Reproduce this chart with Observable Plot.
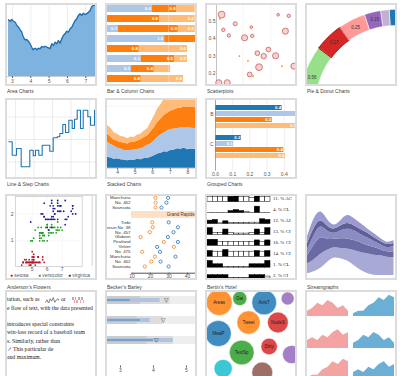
<!DOCTYPE html>
<html><head><meta charset="utf-8">
<script src="https://cdn.jsdelivr.net/npm/d3@7"></script>
<script src="https://cdn.jsdelivr.net/npm/@observablehq/plot@0.6"></script>
<style>
html,body{margin:0;padding:0;background:#fff}
#root{position:relative;width:400px;height:376px;overflow:hidden;font-family:"Liberation Sans",Arial,sans-serif}
.frame{position:absolute;box-sizing:border-box;border:2px solid #dcdcdc;overflow:hidden;background:#fff}
.frame svg{display:block;position:absolute;left:0;top:0}
.cap{position:absolute;font-size:5px;line-height:6px;color:#444;white-space:nowrap}
.abs{position:absolute;white-space:nowrap}
</style></head><body><div id="root"></div>
<script>
// ---------------- DATA ----------------
// Area chart
const areaX = [2.78,2.87,2.96,3.05,3.15,3.24,3.33,3.42,3.51,3.56,3.64,3.69,3.78,3.87,3.96,4.05,4.11,4.18,4.24,4.33,4.42,4.51,4.6,4.69,4.78,4.87,4.96,5.05,5.09,5.15,5.24,5.33,5.42,5.51,5.6,5.69,5.78,5.87,5.96,6.05,6.15,6.24,6.33,6.42,6.51,6.6,6.69,6.78,6.87,6.96,7.05,7.15,7.24,7.33,7.42,7.53];
const areaY = [56.7,55.3,57,55.3,54.3,51,49.3,46.7,44.3,41,37.7,36.7,37,35.3,32.7,29.3,26.7,27.7,28.3,26.7,28.3,27.7,30,29.3,30.3,29.3,28.7,27.7,30,32.7,31,34.3,32.7,36,33.3,37.7,41,42.7,45.3,44.3,47.7,49.3,52.7,56,57.7,61,62.7,61,63.3,62,62.7,64.3,66,70,71,72];
// Bar chart (stacked horizontal)
const barRows = [0,1,2,3,4,5,6,7];
const barBlue   = [0.69,0,0.17,0.88,0,0.52,0.37,0];
const barOrange = [0.38,0.8,0.92,0.48,0.49,0.51,0.35,0.52];
const barLight  = [0.28,0.55,0.26,0,0.74,0.2,0.25,0.65];
const labBlue   = ["0.6","","0.7","1.0","","0.3","0.5",""];
const labOrange = ["0.8","0.8","0.9","","0.8","0.5","0.4","0.8"];
const labLight  = ["","0.4","0.2","","0.6","0.2","","0.6"];
// Scatterplot
const bubbleX = [0.6,0.8,1.45,2.2,4.1,3.3,4.2,7.25,8.5,8.1,6.1,4.8,5.55,6.95,5.0,3.9,9.1,0.27,1.26];
const bubbleY = [0.54,0.452,0.419,0.487,0.467,0.406,0.417,0.539,0.533,0.444,0.338,0.317,0.3,0.302,0.236,0.194,0.242,0.146,0.146];
const bubbleS = [10,5,5,6,4,9,5,4,5,9,7,7,8,9,10,7,9,9,9];
const dotX = [0.4,2.7,3.7,4.3,7.7,9.6];
const dotY = [0.516,0.3,0.273,0.184,0.242,0.323];
const scGridX = [3.1,6.4];
// Donut
const pieValues = [0.56,0.27,0.25,0.15,0.08,0.07];
const pieLabels = ["0.56","0.27","0.25","0.15","",""];
const pieColors = ["#98df8a","#d62728","#ff9896","#9467bd","#c5b0d5","#1f77b4"];
// Step chart
const stepT = [1.3,4.7,9,13.7,18,22.3,25.7,28,31.3,34.7,39,42.3,45.7,49.7,52.3,55.3,58,61.3,64.7,67,69.7,73,75.7,80.3,83,87,90.3];
const stepV = [36.7,23.3,30,11.7,11.7,28.3,22.7,28.3,23.3,33.3,33.3,27.3,40.7,41.7,45,54,46,58.3,50,59.3,68.3,50,68.3,61.7,53.3,68.3,68.3];
const stepGridX = [8,26.5,45,63.5,82];
const stepGridY = [16.5,39,61.5];
// Stacked
const stkX = [3.43,3.62,3.81,4.0,4.19,4.38,4.57,4.76,4.95,5.14,5.33,5.52,5.71,5.9,6.09,6.28,6.47,6.66,6.85,7.04,7.23,7.42,7.61,7.8,7.99,8.18,8.43];
const stkDark  = [11,10.2,9,9.4,8.5,8.2,7.4,8.3,8.0,9.0,8.4,9.6,9.8,11,12.4,14.3,15,16.4,16.2,18,18.3,19.4,19,20.2,18.4,19.3,18.6];
const stkLightBlue = [15,13.6,13.1,10.6,10.7,9.6,10.3,9.4,10.1,9.6,11.1,11.3,13.1,13.4,15.4,16.6,18.4,19,21.3,20.6,21,20.4,21.1,20,22,20.7,21];
const stkOrange = [8.3,7.4,6,7,6.4,7.3,6.4,8,7.6,8.7,9,9.8,9.6,12,13,14.7,15.7,17.6,17.4,18.6,18.8,20,20,21,20.8,21.3,20.8];
const stkLightOrange = [8.3,8.7,7.3,7,6,6,5.4,5.6,5,6,5.4,6.6,7,9.3,11.4,13.6,14.7,16.3,16,15,15,15,15,15,15,15,15];
// Grouped
const grpKeys = ["B0","B1","B2","B3","gap","C0","C1","C2","C3"];
const grpB = [0.387,0.52,0.33,0.475];
const grpC = [0.15,0.106,0.397,0.407];
const grpLabB = ["0.4","","0.3","0.5"];
const grpLabC = ["0.2","0.1","0.4","0.4"];
// Iris (sepal length, petal width)
const setosaSL = [5.1,4.9,4.7,4.6,5.0,5.4,4.6,5.0,4.4,4.9,5.4,4.8,4.8,4.3,5.8,5.7,5.4,5.1,5.7,5.1,5.4,5.1,4.6,5.1,4.8,5.0,5.0,5.2,5.2,4.7,4.8,5.4,5.2,5.5,4.9,5.0,5.5,4.9,4.4,5.1,5.0,4.5,4.4,5.0,5.1,4.8,5.1,4.6,5.3,5.0];
const setosaPW = [0.2,0.2,0.2,0.2,0.2,0.4,0.3,0.2,0.2,0.1,0.2,0.2,0.1,0.1,0.2,0.4,0.4,0.3,0.3,0.3,0.2,0.4,0.2,0.5,0.2,0.2,0.4,0.2,0.2,0.2,0.2,0.4,0.1,0.2,0.2,0.2,0.2,0.1,0.2,0.2,0.3,0.3,0.2,0.6,0.4,0.3,0.2,0.2,0.2,0.2];
const versiSL = [7.0,6.4,6.9,5.5,6.5,5.7,6.3,4.9,6.6,5.2,5.0,5.9,6.0,6.1,5.6,6.7,5.6,5.8,6.2,5.6,5.9,6.1,6.3,6.1,6.4,6.6,6.8,6.7,6.0,5.7,5.5,5.5,5.8,6.0,5.4,6.0,6.7,6.3,5.6,5.5,5.5,6.1,5.8,5.0,5.6,5.7,5.7,6.2,5.1,5.7];
const versiPW = [1.4,1.5,1.5,1.3,1.5,1.3,1.6,1.0,1.3,1.4,1.0,1.5,1.0,1.4,1.3,1.4,1.5,1.0,1.5,1.1,1.8,1.3,1.5,1.2,1.3,1.4,1.4,1.7,1.5,1.0,1.1,1.0,1.2,1.6,1.5,1.6,1.5,1.3,1.3,1.3,1.2,1.4,1.2,1.0,1.3,1.2,1.3,1.3,1.1,1.3];
const virgSL = [6.3,5.8,7.1,6.3,6.5,7.6,4.9,7.3,6.7,7.2,6.5,6.4,6.8,5.7,5.8,6.4,6.5,7.7,7.7,6.0,6.9,5.6,7.7,6.3,6.7,7.2,6.2,6.1,6.4,7.2,7.4,7.9,6.4,6.3,6.1,7.7,6.3,6.4,6.0,6.9,6.7,6.9,5.8,6.8,6.7,6.7,6.3,6.5,6.2,5.9];
const virgPW = [2.5,1.9,2.1,1.8,2.2,2.1,1.7,1.8,1.8,2.5,2.0,1.9,2.1,2.0,2.4,2.3,1.8,2.2,2.3,1.5,2.3,2.0,2.0,1.8,2.1,1.8,1.8,1.8,2.1,1.6,1.9,2.0,2.2,1.5,1.4,2.3,2.4,1.8,1.8,2.1,2.4,2.3,1.9,2.3,2.5,2.3,1.9,2.0,2.3,1.8];
const irisSpecies = ["setosa","versicolor","virginica"];
// Barley
const upperVarieties = ["Manchuria","No. 462","Svansota"];
const upper1931 = [29.5,28.6,25.9];
const upper1932 = [22.7,22.7,22.7];
const site = "Grand Rapids";
const barleyVarieties = ["Trebi","Wisconsin No. 38","No. 457","Glabron","Peatland","Velvet","No. 475","Manchuria","No. 462","Svansota"];
const barley1931 = [29.8,34.8,32.4,29.4,34.8,23.6,25.1,33.5,25.4,29.8];
const barley1932 = [20.9,21.2,19.6,14.6,27.2,32.6,15.5,22.4,20.4,16.9];
// Bertin's hotel
const bertinLabels = ["11. % AC","4. % CL","12. % AI","13. % CI","16. % CI","14. % CI","1. % CL","2. % CI"];
const bertinValues = [
  [0.75,0.75,0.75,0.75,0.8,1.0,0.75,0.75,0.6,1.0,0.75,0.75],
  [0.05,0.05,0.05,0.05,0.3,0.45,0.3,0.2,0.05,0.95,0.05,0.05],
  [0.5,0.6,0.1,0.4,0.15,0.15,0.15,0.15,0.2,0.2,0.7,0.6],
  [1.0,0.3,0.3,0.8,0.3,0.2,0.2,0.2,0.3,0.8,0.3,1.0],
  [0.9,0.9,0.6,0.6,0.6,0.6,0.6,0.6,0.6,0.8,0.6,0.8],
  [0.85,0.75,0.75,1.0,0.75,0.75,0.75,0.75,0.75,0.85,0.75,0.85],
  [1.0,0.5,0.5,0.1,0.1,0.1,0.1,0.1,0.5,0.5,0.5,1.0],
  [0.5,0.5,0.5,0.5,0.1,0.1,0.1,0.1,0.5,0.5,0.5,0.3]
];
// Streamgraph
const streamT = [0,1,2,3,4,5,6,7,8,9,10,11,12,13];
const streamBase = [4,5.7,9,15.7,20.7,19,17.3,12.3,7.3,4,2.3,2.3,2.3,2.3];
const streamL1 = [10,12,15,12,10,10,12,15,18,20,20,20,18,18];
const streamL2 = [8,15,18,10,8,10,10,10,10,8,8,6,5,6];
const streamL3 = [6,10,12,8,5,8,10,10,8,8,6,5,4,5];
const streamL4 = [6,8,6,5,4,5,6,5,5,5,4,3,3,3];
const streamL5 = [7,10,9,7,3,5,9,7,6,4,4,3,2,3];
// Sparklines text
const sparkA = [3,5,2,6,4,7,3,5,6,4];
const sparkB = [1,1,-1,1,-1,-1,1,1,-1,1,1,-1];
// Bullet charts
const bulletRows = ["b1","b2","b3"];
const bulletR1 = [5.3,5.3,5.3];
const bulletR2 = [4.5,4.3,4.6];
const bulletR3 = [3.6,3.5,3.8];
const bulletM1 = [4.2,3.9,4.6];
const bulletM2 = [3.3,3.6,4.0];
const bulletMarker = [4.4,4.3,4.1];
// Bubble (pack)
const packX = [12,33,58,82,11,42,72,35,63,86,16,56];
const packY = [10,6,10,6,41,30,30,60,54,62,76,80];
const packV = [100,30,90,25,100,80,64,90,40,49,49,64];
const packLabels = ["Areas","Dat","AxisT","","MeaP","Tweet","NodeS","TextSp","Dirty","","",""];
const packColors = ["#ff7f0e","#2ca02c","#1f77b4","#9467bd","#1f77b4","#ff7f0e","#d62728","#2ca02c","#d62728","#9467bd","#17becf","#8c564b"];
// Small multiples
const smT = [0,1,2,3,4,5,6,7,8];
const smA = [2,3,5,4,6,5,3,4,2];
const smB = [1,2,2,4,5,7,6,8,7];
const smC = [3,4,3,5,4,6,7,5,6];

// ---------------- LAYOUT ----------------
const root = document.getElementById("root");
const COLX = [5,105,205,305];
const ROWS = [{top:3,h:83,cap:91},{top:98,h:81,cap:184},{top:194,h:86,cap:287},{top:290,h:92,cap:400}];
const FONT = "'Liberation Sans', Arial, sans-serif";
const SERIF = "'Liberation Serif','DejaVu Serif',serif";
function frame(col,row,caption){
  const r = ROWS[row];
  const f = document.createElement("div");
  f.className = "frame";
  Object.assign(f.style,{left:COLX[col]+"px",top:r.top+"px",width:"92px",height:r.h+"px"});
  root.appendChild(f);
  if (caption) {
    const c = document.createElement("div");
    c.className = "cap"; c.textContent = caption;
    Object.assign(c.style,{left:(COLX[col]+2)+"px",top:(r.cap-3)+"px"});
    root.appendChild(c);
  }
  return f;
}
function base(h, extra){
  return Object.assign({width:88,height:h,marginTop:0,marginRight:0,marginBottom:0,marginLeft:0,
    style:{fontSize:"5px",fontFamily:FONT,background:"transparent",color:"#555",overflow:"hidden"}}, extra);
}

// 1. Area chart
{
  const f = frame(0,0,"Area Charts");
  const data = areaX.map((x,i)=>({x,y:areaY[i]}));
  f.appendChild(Plot.plot(base(79,{marginBottom:8,
    x:{domain:[2.727,7.53],ticks:5,tickFormat:"d",tickSize:2,tickPadding:0.5,label:null,grid:true},
    y:{domain:[0,71],axis:null},
    marks:[
      Plot.areaY(data,{x:"x",y:"y",fill:"#7fb3df"}),
      Plot.lineY(data,{x:"x",y:"y",stroke:"#1f6db0",strokeWidth:1.3}),
      Plot.ruleY([0],{stroke:"#999",strokeWidth:0.5})
    ]})));
}
// 2. Bar chart
{
  const f = frame(1,0,"Bar & Column Charts");
  const data = [];
  barRows.forEach((r,i)=>{
    data.push({row:r,s:"blue",v:barBlue[i],lab:labBlue[i]});
    data.push({row:r,s:"orange",v:barOrange[i],lab:labOrange[i]});
    data.push({row:r,s:"light",v:barLight[i],lab:labLight[i]});
  });
  f.appendChild(Plot.plot(base(79,{
    x:{domain:[0,1.354],axis:null},
    y:{type:"band",domain:barRows,range:[-4.8,81.4],padding:0.3,axis:null},
    color:{domain:["blue","orange","light"],range:["#aec7e8","#ff7f0e","#ffbb78"]},
    marks:[
      Plot.barX(data,Plot.stackX({x:"v",y:"row",fill:"s",z:"s"})),
      Plot.ruleX([0.94],{stroke:"#fff",strokeOpacity:0.5,strokeWidth:0.6}),
      Plot.text(data,Plot.stackX2({x:"v",y:"row",z:"s",text:"lab",textAnchor:"end",dx:-1.5,fill:"white",fontSize:4.3,fontWeight:"bold"}))
    ]})));
}
// 3. Scatterplot
{
  const f = frame(2,0,"Scatterplots");
  const bubbles = bubbleX.map((x,i)=>({x,y:bubbleY[i],s:bubbleS[i]}));
  const dots = dotX.map((x,i)=>({x,y:dotY[i]}));
  f.appendChild(Plot.plot(base(79,{marginLeft:9,
    x:{domain:[0,9.29],axis:null},
    y:{domain:[0.136,0.5925],ticks:4,tickFormat:".1f",tickSize:0,tickPadding:1,label:null},
    r:{type:"linear",domain:[0,10],range:[0,3.4]},
    marks:[
      Plot.ruleX(scGridX,{stroke:"#eee",strokeWidth:0.6}),
      Plot.ruleX([0],{stroke:"#aaa",strokeWidth:0.7}),
      Plot.dot(bubbles,{x:"x",y:"y",r:"s",fill:"#f6d3d3",stroke:"#cf6b6b",strokeWidth:0.9}),
      Plot.dot(dots,{x:"x",y:"y",r:0.9,fill:"#ff8c1a"})
    ]})));
}
// 4. Donut
{
  const f = frame(3,0,"Pie & Donut Charts");
  const DEG = 66, R0 = 80, R1 = 96;
  let a = 180;
  const marks = [];
  const labels = [];
  pieValues.forEach((v,i)=>{
    const a0 = a, a1 = a - v*DEG; a = a1;
    const pts = [];
    const n = 30;
    for (let k=0;k<=n;k++){ const t=(a0+(a1-a0)*k/n)*Math.PI/180; pts.push({x:R1*Math.cos(t),y:R1*Math.sin(t)}); }
    for (let k=n;k>=0;k--){ const t=(a0+(a1-a0)*k/n)*Math.PI/180; pts.push({x:R0*Math.cos(t),y:R0*Math.sin(t)}); }
    const red = i===1;
    marks.push(Plot.line(pts,{x:"x",y:"y",fill:pieColors[i],stroke:red?"#a50f15":"#fff",strokeWidth:red?1:0.5,curve:"linear-closed"}));
    const tm = ((a0+a1)/2)*Math.PI/180;
    labels.push({x:88*Math.cos(tm),y:88*Math.sin(tm),t:pieLabels[i]});
  });
  marks.push(Plot.text(labels,{x:"x",y:"y",text:"t",fill:"#333",fontSize:4.5}));
  f.appendChild(Plot.plot(base(79,{
    x:{domain:[-88,0],axis:null},
    y:{domain:[21,100],axis:null},
    marks})));
}
// 5. Step chart
{
  const f = frame(0,1,"Line & Step Charts");
  const data = stepT.map((t,i)=>({t,v:stepV[i]}));
  f.appendChild(Plot.plot(base(77,{
    x:{domain:[0,88],axis:null},
    y:{domain:[0,78],range:[78,0],axis:null},
    marks:[
      Plot.ruleX(stepGridX,{stroke:"#e4e4e4",strokeWidth:0.7}),
      Plot.ruleY(stepGridY,{stroke:"#e4e4e4",strokeWidth:0.7}),
      Plot.line(data,{x:"t",y:"v",curve:"step-after",stroke:"#1f77b4",strokeWidth:1.1})
    ]})));
}
// 6. Stacked
{
  const f = frame(1,1,"Stacked Charts");
  const series = [["a",stkDark],["b",stkLightBlue],["c",stkOrange],["d",stkLightOrange]];
  const data = [];
  series.forEach(([s,arr])=>arr.forEach((v,i)=>data.push({x:stkX[i],v,s})));
  f.appendChild(Plot.plot(base(77,{marginBottom:9.3,
    x:{domain:[3.43,8.43],ticks:5,tickFormat:"d",tickSize:2,tickPadding:0.5,label:null},
    y:{domain:[0,67.7],axis:null},
    color:{domain:["a","b","c","d"],range:["#1f77b4","#aec7e8","#ff7f0e","#ffbb78"]},
    marks:[
      Plot.ruleY([62],{stroke:"#eee",strokeWidth:0.6}),
      Plot.areaY(data,{x:"x",y:"v",fill:"s",z:"s",order:null}),
      Plot.ruleY([0],{stroke:"#999",strokeWidth:0.5})
    ]})));
}
// 7. Grouped
{
  const f = frame(2,1,"Grouped Charts");
  const cols = ["#1f77b4","#aec7e8","#ff7f0e","#ffbb78"];
  const data = [...grpB.map((v,i)=>({key:"B"+i,v,lab:grpLabB[i],c:cols[i]})),...grpC.map((v,i)=>({key:"C"+i,v,lab:grpLabC[i],c:cols[i]}))];
  f.appendChild(Plot.plot(base(77,{marginLeft:8,marginBottom:6.3,
    x:{domain:[0,0.465],ticks:5,tickFormat:".1f",tickSize:0,tickPadding:1,grid:true,label:null},
    y:{type:"band",domain:grpKeys,range:[0.86,62.74],padding:0.12,tickFormat:d=>(d==="B1"||d==="C1")?d[0]:"",tickSize:0,tickPadding:2,label:null},
    color:{type:"identity"},
    marks:[
      Plot.barX(data,{x:"v",y:"key",fill:"c"}),
      Plot.text(data,{x:"v",y:"key",text:"lab",textAnchor:"end",dx:-1,fill:"white",fontSize:4.3,fontWeight:"bold"}),
      Plot.ruleX([0],{stroke:"#888",strokeWidth:0.7})
    ]})));
}
// 9. Iris
{
  const f = frame(0,2,"Anderson\u2019s Flowers");
  const data = [
    ...setosaSL.map((x,i)=>({x,y:setosaPW[i],s:"setosa"})),
    ...versiSL.map((x,i)=>({x,y:versiPW[i],s:"versicolor"})),
    ...virgSL.map((x,i)=>({x,y:virgPW[i],s:"virginica"}))];
  const colors = ["#b2182b","#22a022","#1c1c9c"];
  f.appendChild(Plot.plot(base(82,{marginLeft:8,marginRight:13.3,marginBottom:12,
    x:{domain:[3.887,8.333],ticks:5,tickFormat:d=>(d>=5&&d<=7)?String(d):"",tickSize:0,tickPadding:1,label:null},
    y:{domain:[0.048,2.648],ticks:2,tickFormat:"d",tickSize:0,tickPadding:2,label:null},
    color:{domain:irisSpecies,range:colors},
    marks:[
      Plot.ruleX([5,6,7],{stroke:"#eee",strokeWidth:0.5}),
      Plot.ruleY([1,2],{stroke:"#eee",strokeWidth:0.5}),
      Plot.frame({stroke:"#bbb",strokeWidth:0.6}),
      Plot.ruleX([9.0],{stroke:"#bbb",strokeWidth:0.6}),
      Plot.dot(data,{x:"x",y:"y",fill:"s",r:0.9})
    ]})));
  const lx = [3,31,61];
  irisSpecies.forEach((s,i)=>{
    const d = document.createElement("div");
    d.className = "abs";
    Object.assign(d.style,{left:lx[i]+"px",top:"75.5px",fontSize:"4.8px",color:"#555",fontFamily:FONT});
    d.innerHTML = `<span style="color:${colors[i]};font-size:5px">\u25CF</span> ${s}`;
    f.appendChild(d);
  });
}
// 10. Barley
{
  const f = frame(1,2,"Becker\u2019s Barley");
  const rows = [
    ...upperVarieties.map((v,i)=>({v,a:upper1931[i],b:upper1932[i],pos:i})),
    ...barleyVarieties.map((v,i)=>({v,a:barley1931[i],b:barley1932[i],pos:upperVarieties.length+2+i}))];
  const hpos = upperVarieties.length + 0.5;
  const xDom = [10,44.3];
  f.appendChild(Plot.plot(base(82,{marginLeft:24.5,marginBottom:5.3,
    x:{domain:xDom,ticks:4,tickFormat:"d",tickSize:1.5,tickPadding:0,label:null,line:true},
    y:{domain:[0,14],range:[1.3,70],axis:null},
    marks:[
      Plot.rect([site],{x1:()=>xDom[0],x2:()=>xDom[1],y1:()=>hpos-0.58,y2:()=>hpos+0.58,fill:"#fde0c5",stroke:"#f5c79e",strokeWidth:0.4}),
      Plot.text([site],{x:()=>xDom[1],y:()=>hpos,text:d=>d,textAnchor:"end",dx:-1,fill:"#333",fontSize:4.5}),
      Plot.text(rows,{x:()=>xDom[0],y:"pos",text:"v",textAnchor:"end",dx:-1.5,fill:"#333",fontSize:4.4}),
      Plot.dot(rows,{x:"b",y:"pos",r:1.6,stroke:"#f5903a",strokeWidth:0.9}),
      Plot.dot(rows,{x:"a",y:"pos",r:1.6,stroke:"#3a7fc0",strokeWidth:0.9})
    ]})));
}
// 11. Bertin
{
  const f = frame(2,2,"Bertin\u2019s Hotel");
  const data = [];
  bertinValues.forEach((row,r)=>{
    const m = d3.mean(row);
    row.forEach((v,i)=>data.push({r,i,v,hi:v>m}));
  });
  f.appendChild(Plot.plot(base(82,{
    x:{domain:[0,12],range:[0,63],axis:null},
    y:{domain:[0,7],range:[2.3,78.7],axis:null},
    color:{type:"identity"},
    marks:[
      Plot.rect(data,{x1:"i",x2:d=>d.i+1,y1:d=>d.r+0.31,y2:d=>d.r+0.31-0.62*d.v,fill:d=>d.hi?"#000":"#fff",stroke:"#000",strokeWidth:0.5}),
      Plot.text(bertinLabels,{x:()=>12,y:(d,i)=>i,text:d=>d,textAnchor:"start",dx:2.5,fill:"#222",fontSize:4.9,fontFamily:SERIF})
    ]})));
}
// 12. Streamgraph
{
  const f = frame(3,2,"Streamgraphs");
  const layers = [["base",streamBase,"transparent"],["l1",streamL1,"#a9a9d6"],["l2",streamL2,"#6a6aa4"],["l3",streamL3,"#8c8cc4"],["l4",streamL4,"#5f5f98"],["l5",streamL5,"#9b9bd0"]];
  const data = [];
  layers.forEach(([k,arr,c])=>arr.forEach((v,i)=>data.push({t:streamT[i],v,k,c})));
  f.appendChild(Plot.plot(base(82,{
    x:{domain:[0,13],range:[0,86.5],axis:null},
    y:{domain:[0,81.3],range:[81.3,0],axis:null},
    color:{type:"identity"},
    marks:[Plot.areaY(data,{x:"t",y:"v",z:"k",fill:"c",order:null,curve:"basis"})]})));
}
// 13. Sparklines
{
  const f = frame(0,3,null);
  const lines = [
    [4,"tation, such as ",true],
    [13,"e flow of text, with the data presented",false],
    [29,"introduces special constraints",false],
    [37,"win-loss record of a baseball team",false],
    [46,"s. Similarly, rather than",false],
    [54,"\u2197 This particular de",false],
    [62,"and maximum.",false]];
  lines.forEach(([y,t,sp])=>{
    const d = document.createElement("div");
    d.className = "abs";
    Object.assign(d.style,{left:"0px",top:y+"px",fontSize:"5.7px",fontFamily:SERIF,color:"#222"});
    d.textContent = t;
    f.appendChild(d);
    if (sp) {
      const s1 = Plot.plot({width:14,height:6,margin:0,x:{axis:null},y:{axis:null},style:{background:"transparent"},
        marks:[Plot.line(sparkA,{x:(d,i)=>i,y:d=>d,stroke:"#333",strokeWidth:0.6})]});
      Object.assign(s1.style,{left:"38px",top:(y+1)+"px"});
      f.appendChild(s1);
      const o = document.createElement("div"); o.className="abs";
      Object.assign(o.style,{left:"54px",top:y+"px",fontSize:"5.7px",fontFamily:SERIF,color:"#222"}); o.textContent="or";
      f.appendChild(o);
      const s2 = Plot.plot({width:18,height:6,margin:0,x:{axis:null},y:{axis:null,domain:[-1,1]},style:{background:"transparent"},
        marks:[Plot.barY(sparkB,{x:(d,i)=>i,y:d=>d,fill:d=>d>0?"#333":"#d62728",insetLeft:0.3,insetRight:0.3})]});
      Object.assign(s2.style,{left:"62px",top:(y+1)+"px"});
      f.appendChild(s2);
    }
  });
}
// 14. Bullet
{
  const f = frame(1,3,null);
  const data = bulletRows.map((r,i)=>({r,a:bulletR1[i],b:bulletR2[i],c:bulletR3[i],m1:bulletM1[i],m2:bulletM2[i],k:bulletMarker[i]}));
  const lo = 2.606;
  f.appendChild(Plot.plot(base(88,{marginBottom:14.5,
    x:{domain:[lo,5.273],ticks:3,tickFormat:"d",tickSize:2,tickPadding:0.5,label:null},
    y:{type:"band",domain:bulletRows,range:[-8,64],padding:0.58,axis:null},
    marks:[
      Plot.barX(data,{x1:()=>lo,x2:"a",y:"r",fill:"#eee"}),
      Plot.barX(data,{x1:()=>lo,x2:"b",y:"r",fill:"#ddd"}),
      Plot.barX(data,{x1:()=>lo,x2:"c",y:"r",fill:"#ccc"}),
      Plot.barX(data,{x1:()=>lo,x2:"m1",y:"r",fill:"#b0c4de",insetTop:2,insetBottom:2}),
      Plot.barX(data,{x1:()=>lo,x2:"m2",y:"r",fill:"#4682b4",insetTop:3.5,insetBottom:3.5}),
      Plot.text(data,{x:"k",y:"r",text:()=>"\u25BD",fontSize:6,fill:"#333"})
    ]})));
}
// 15. Pack
{
  const f = frame(2,3,null);
  const data = packX.map((x,i)=>({x,y:packY[i],v:packV[i],t:packLabels[i],c:packColors[i]}));
  f.appendChild(Plot.plot(base(88,{
    x:{domain:[0,90],axis:null},y:{domain:[0,88],range:[0,88],axis:null},
    r:{type:"sqrt",domain:[0,100],range:[0,13]},color:{type:"identity"},
    marks:[Plot.dot(data,{x:"x",y:"y",r:"v",fill:"c",fillOpacity:0.85,stroke:"#fff",strokeWidth:0.5}),
      Plot.text(data,{x:"x",y:"y",text:"t",fontSize:4.5,fill:"#222"})]})));
}
// 16. Small multiples
{
  const f = frame(3,3,null);
  const cells = [["p",0,smA],["q",0,smB],["p",1,smC],["q",1,smA],["p",2,smB],["q",2,smC]];
  const data = [];
  cells.forEach(([c,r,arr],j)=>arr.forEach((v,i)=>data.push({c,r:String(r),t:smT[i],v,k:j})));
  f.appendChild(Plot.plot(base(88,{
    fx:{domain:["p","q"],axis:null,padding:0.1},fy:{domain:["0","1","2"],axis:null,padding:0.25},
    x:{axis:null},y:{axis:null,domain:[0,9]},
    color:{domain:["p","q"],range:["#f4a3a3","#6baed6"]},
    marks:[Plot.areaY(data,{x:"t",y:"v",fx:"c",fy:"r",fill:"c"})]})));
}
</script></body></html>
